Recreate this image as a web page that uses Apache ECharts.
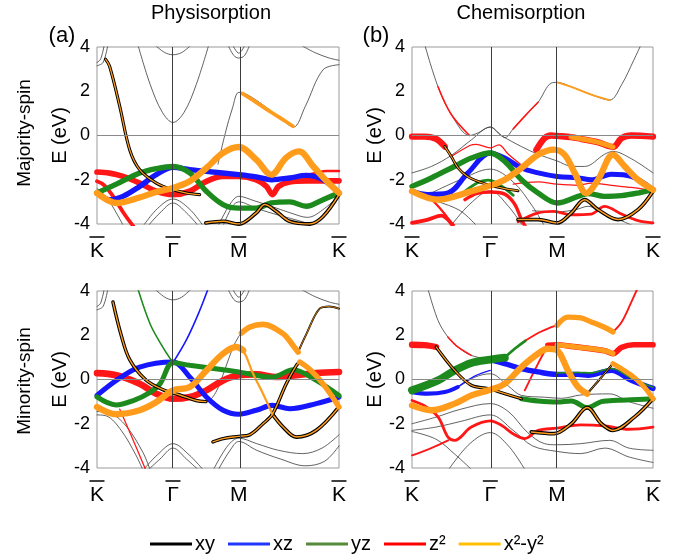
<!DOCTYPE html>
<html>
<head>
<meta charset="utf-8">
<script src="https://cdn.jsdelivr.net/npm/echarts@6/dist/echarts.min.js"></script>
<style>
html, body { margin: 0; padding: 0; background: #fff; }
#chart { width: 689px; height: 559px; }
</style>
</head>
<body>
<div id="chart"></div>
<script>
// high-symmetry points: labels and their position along the k-path (0..1)
const kLabels = ['K', 'Γ', 'M', 'K'];
const kPhys = [0, 0.314, 0.586, 1];
const kChem = [0, 0.325, 0.602, 1];

const orbitals = ['xy', 'xz', 'yz', 'z²', 'x²-y²'];

// fat bands: [orbital, weight, [[k, E], ...]]   ('xy/x²-y²' = mixed character)
const physMajFat = [
  ['z²', 0.9, [[0,-1.65],[0.052,-1.7],[0.107,-1.85],[0.176,-2.15],[0.245,-2.52],[0.314,-2.67],[0.383,-2.52],[0.452,-2.07],[0.521,-1.85],[0.586,-1.85],[0.658,-2.0],[0.7,-2.3],[0.725,-2.67],[0.75,-2.3],[0.796,-2.1],[0.865,-2.05],[0.934,-2.05],[1,-2.05]]],
  ['z²', 0.6, [[0,-2.07],[0.03,-2.25],[0.07,-2.8],[0.11,-3.5],[0.15,-4.1]]],
  ['z²', 0.4, [[0.83,-1.85],[0.9,-1.7],[0.95,-1.6],[1,-1.6]]],
  ['xz', 0.85, [[0,-2.6],[0.052,-2.9],[0.107,-2.75],[0.176,-2.3],[0.245,-1.77],[0.314,-1.44],[0.383,-1.54],[0.452,-1.62],[0.586,-1.77],[0.658,-1.87],[0.72,-2.0],[0.796,-1.92],[0.865,-1.8],[0.934,-2.0],[1,-2.6]]],
  ['yz', 0.85, [[0,-2.6],[0.08,-2.2],[0.176,-1.7],[0.245,-1.5],[0.314,-1.4],[0.383,-1.69],[0.452,-2.52],[0.521,-3.12],[0.586,-3.28],[0.658,-3.28],[0.72,-3.05],[0.796,-3.0],[0.865,-3.2],[0.934,-2.9],[1,-2.6]]],
  ['xy/x²-y²', 0.5, [[0.035,3.45],[0.052,3.13],[0.094,1.32],[0.135,-0.64],[0.176,-1.54],[0.245,-2.15],[0.314,-2.45],[0.37,-2.6],[0.424,-2.67]]],
  ['xy/x²-y²', 0.6, [[0.45,-3.95],[0.521,-3.88],[0.586,-4.0],[0.658,-3.5],[0.693,-3.12],[0.741,-3.43],[0.796,-3.88],[0.879,-4.0],[0.934,-3.66],[1,-2.67]]],
  ['x²-y²', 1.0, [[0,-2.6],[0.08,-3.05],[0.176,-2.8],[0.245,-2.55],[0.314,-2.37],[0.383,-2.07],[0.452,-1.47],[0.521,-0.79],[0.586,-0.52],[0.658,-1.09],[0.72,-1.77],[0.782,-1.0],[0.835,-0.72],[0.893,-1.39],[0.95,-2.07],[1,-2.6]]],
  ['x²-y²', 0.6, [[0.6,1.9],[0.658,1.5],[0.72,1.05],[0.782,0.62],[0.81,0.42]]]
];
const physMajThin = [
  [[0.169,4.1],[0.22,2.3],[0.27,1.05],[0.314,0.59],[0.36,1.05],[0.41,2.3],[0.462,4.1]],
  [[0.238,4.1],[0.28,3.75],[0.314,3.65],[0.35,3.75],[0.39,4.1]],
  [[0.541,4.1],[0.565,3.62],[0.586,3.5],[0.61,3.62],[0.631,4.1]],
  [[0.56,4.1],[0.586,3.72],[0.612,4.1]],
  [[0,3.15],[0.025,3.3],[0.045,4.1]],
  [[0,3.3],[0.015,3.45],[0.03,4.1]],
  [[0.84,4.1],[0.9,3.75],[0.96,3.5],[1,3.4]],
  [[0.5,-1.3],[0.53,0.1],[0.56,1.25],[0.586,1.95],[0.62,1.85],[0.69,1.35],[0.76,0.75],[0.812,0.38],[0.86,1.3],[0.934,2.97],[1,3.2]],
  [[0.19,-4.1],[0.25,-3.3],[0.314,-2.87],[0.38,-3.3],[0.44,-4.1]],
  [[0.21,-4.1],[0.26,-3.5],[0.314,-3.05],[0.37,-3.5],[0.42,-4.1]],
  [[0.5,-4.1],[0.55,-3.1],[0.586,-2.75],[0.65,-2.95],[0.72,-3.2],[0.8,-3.5],[0.87,-3.7],[0.94,-3.3],[1,-2.7]],
  [[0.52,-4.1],[0.56,-3.2],[0.586,-3.0],[0.66,-3.3],[0.75,-3.6],[0.85,-3.9],[0.9,-4.1]],
  [[0,-2.4],[0.04,-2.8],[0.08,-3.5],[0.11,-4.1]]
];

const chemMajFat = [
  ['z²', 1.0, [[0,-0.05],[0.053,-0.05],[0.1,-0.15],[0.136,-0.5]]],
  ['z²', 1.0, [[0.516,-0.65],[0.55,-0.12],[0.578,0.0],[0.602,-0.02],[0.66,-0.07],[0.7,-0.15],[0.77,-0.3],[0.834,-0.52],[0.87,-0.12],[0.91,0.0],[1,-0.05]]],
  ['z²', 0.55, [[0.22,-2.9],[0.27,-2.62],[0.325,-2.55],[0.385,-2.65],[0.426,-3.1],[0.454,-3.8],[0.47,-4.1]]],
  ['z²', 0.6, [[0,-3.95],[0.066,-3.8],[0.122,-3.62],[0.149,-3.8],[0.17,-4.1]]],
  ['z²', 0.35, [[0.053,-2.6],[0.1,-3.1],[0.136,-3.55],[0.16,-3.9],[0.18,-4.1]]],
  ['z²', 0.45, [[0.44,-3.9],[0.523,-3.5],[0.588,-3.43],[0.661,-3.58],[0.744,-3.55],[0.799,-3.2],[0.869,-3.55],[0.938,-3.85],[1,-3.95]]],
  ['z²', 0.2, [[0.163,-0.95],[0.24,-0.45],[0.267,-0.4],[0.325,-0.56],[0.36,-0.42],[0.4,-0.85],[0.45,-1.3]]],
  ['z²', 0.2, [[0.42,-2.2],[0.523,-2.1],[0.602,-2.2],[0.689,-2.25],[0.744,-2.15],[0.827,-2.25],[0.91,-2.35],[1,-2.5]]],
  ['z²', 0.25, [[0.108,2.2],[0.163,0.95],[0.239,0.0]]],
  ['z²', 0.25, [[0.42,0.3],[0.47,0.9],[0.523,1.5]]],
  ['xz', 0.8, [[0,-2.52],[0.066,-2.67],[0.149,-2.6],[0.232,-1.69],[0.325,-0.79],[0.385,-1.02],[0.454,-1.47],[0.523,-1.69],[0.602,-1.85],[0.689,-1.92],[0.744,-2.0],[0.827,-1.75],[0.91,-1.85],[1,-2.45]]],
  ['yz', 0.85, [[0,-2.3],[0.08,-1.92],[0.177,-1.39],[0.246,-1.02],[0.325,-0.79],[0.385,-1.17],[0.454,-2.0],[0.523,-2.6],[0.602,-3.05],[0.689,-2.75],[0.73,-2.62],[0.799,-2.75],[0.869,-2.72],[0.938,-2.6],[1,-2.45]]],
  ['yz', 0.45, [[0.2,-2.7],[0.27,-2.15],[0.315,-2.02],[0.36,-2.2],[0.42,-2.7]]],
  ['xy/x²-y²', 0.45, [[0.136,-0.5],[0.163,-0.95],[0.19,-1.45],[0.23,-1.85],[0.28,-2.1],[0.325,-2.25],[0.385,-2.4],[0.44,-2.5]]],
  ['xy/x²-y²', 0.6, [[0.44,-3.8],[0.523,-3.8],[0.602,-3.95],[0.661,-3.5],[0.716,-2.9],[0.772,-3.35],[0.855,-3.8],[0.938,-3.35],[1,-2.52]]],
  ['x²-y²', 1.0, [[0,-2.52],[0.108,-2.9],[0.177,-2.75],[0.246,-2.52],[0.315,-2.3],[0.385,-2.0],[0.454,-1.47],[0.523,-0.87],[0.588,-0.64],[0.633,-0.87],[0.675,-1.69],[0.723,-2.6],[0.772,-2.0],[0.834,-0.87],[0.882,-1.39],[0.938,-2.0],[1,-2.45]]],
  ['x²-y²', 0.8, [[0.66,-0.07],[0.7,-0.15],[0.77,-0.3],[0.834,-0.52]]],
  ['x²-y²', 0.3, [[0.602,2.4],[0.661,2.2],[0.744,1.85],[0.82,1.6]]]
];
const chemMajThin = [
  [[0.053,4.1],[0.108,2.2],[0.163,0.95],[0.239,0.0],[0.27,0.1],[0.325,0.38],[0.36,0.1],[0.385,-0.1],[0.42,0.3],[0.47,0.9],[0.523,1.5],[0.578,2.37],[0.602,2.4],[0.661,2.2],[0.744,1.85],[0.82,1.6],[0.87,2.3],[0.92,3.4],[0.95,4.1]],
  [[0,-1.69],[0.08,-1.4],[0.163,-0.9],[0.246,-0.2],[0.325,0.38],[0.371,0.0],[0.454,-0.5],[0.523,-0.85],[0.602,-1.15],[0.661,-1.39],[0.716,-1.4],[0.799,-0.85],[0.834,-0.72],[0.91,-1.05],[1,-1.69]],
  [[0.08,-2.6],[0.2,-2.0],[0.325,-1.52],[0.42,-2.1],[0.5,-3.2],[0.55,-4.1]],
  [[0,-2.5],[0.1,-2.95],[0.2,-3.4],[0.27,-4.1]],
  [[0.16,-4.1],[0.24,-3.1],[0.325,-2.5],[0.4,-3.2],[0.46,-4.1]],
  [[0.5,-3.4],[0.602,-3.45],[0.68,-3.35],[0.73,-3.2],[0.8,-3.55],[0.88,-3.9],[0.92,-4.1]]
];

const physMinFat = [
  ['z²', 1.05, [[0,0.29],[0.08,0.19],[0.176,-0.19],[0.245,-0.64],[0.314,-0.87],[0.383,-0.79],[0.452,-0.49],[0.521,-0.04],[0.586,0.19],[0.658,0.23],[0.741,0.11],[0.824,0.19],[0.906,0.29],[1,0.34]]],
  ['z²', 0.2, [[0.094,-1.34],[0.14,-2.5],[0.2,-4.05]]],
  ['xz', 0.8, [[0,-0.72],[0.08,-0.04],[0.176,0.56],[0.314,0.79],[0.383,0.11],[0.452,-0.79],[0.521,-1.39],[0.586,-1.57],[0.658,-1.39],[0.725,-1.17],[0.796,-1.32],[0.906,-1.09],[1,-0.79]]],
  ['xz', 0.25, [[0.314,0.76],[0.37,1.8],[0.42,3.0],[0.459,4.1]]],
  ['yz', 0.8, [[0,-0.79],[0.078,-1.15],[0.15,-0.95],[0.216,-0.6],[0.26,-0.2],[0.314,0.76],[0.383,0.64],[0.521,0.44],[0.586,0.34],[0.658,0.19],[0.725,0.11],[0.81,0.44],[0.906,-0.04],[1,-0.72]]],
  ['yz', 0.25, [[0.169,4.1],[0.22,2.5],[0.27,1.5],[0.314,0.76]]],
  ['xy/x²-y²', 0.55, [[0.066,3.5],[0.1,2.0],[0.135,0.9],[0.2,0.0],[0.27,-0.45],[0.342,-0.7],[0.41,-0.95],[0.45,-1.0]]],
  ['xy/x²-y²', 0.6, [[0.725,-1.57],[0.769,-2.15],[0.824,-2.6],[0.906,-2.3],[1,-1.24]]],
  ['xy/x²-y²', 0.55, [[0.479,-2.82],[0.521,-2.67],[0.586,-2.57],[0.631,-2.5],[0.686,-2.0],[0.725,-1.57],[0.782,-0.19],[0.824,0.64],[0.838,0.79]]],
  ['xy/x²-y²', 0.3, [[0.831,1.24],[0.865,2.05],[0.92,3.2],[0.96,3.3],[1,3.2]]],
  ['x²-y²', 1.0, [[0,-1.24],[0.08,-1.57],[0.176,-1.39],[0.245,-1.02],[0.314,-0.49],[0.383,-0.34],[0.452,0.41],[0.521,1.17],[0.576,1.47],[0.604,1.32]]],
  ['x²-y²', 0.35, [[0.576,1.47],[0.604,1.32],[0.645,0.26],[0.686,-0.64],[0.725,-1.57]]],
  ['x²-y²', 0.85, [[0.838,0.79],[0.88,0.45],[0.934,-0.2],[1,-1.24]]],
  ['x²-y²', 0.9, [[0.597,2.1],[0.631,2.37],[0.686,2.49],[0.769,2.07],[0.81,1.54],[0.831,1.24]]]
];
const physMinThin = [
  [[0.238,4.1],[0.28,3.72],[0.314,3.6],[0.35,3.72],[0.39,4.1]],
  [[0.541,4.1],[0.565,3.62],[0.586,3.5],[0.61,3.62],[0.631,4.1]],
  [[0.56,4.1],[0.586,3.72],[0.612,4.1]],
  [[0,3.15],[0.025,3.3],[0.045,4.1]],
  [[0,3.3],[0.015,3.45],[0.03,4.1]],
  [[0.84,4.1],[0.9,3.75],[0.96,3.5],[1,3.4]],
  [[0.41,-0.95],[0.45,-1.0],[0.49,-0.6],[0.53,0.5],[0.56,1.4],[0.586,1.95],[0.6,2.1]],
  [[0.19,-4.1],[0.25,-3.4],[0.314,-2.9],[0.38,-3.4],[0.44,-4.1]],
  [[0.21,-4.1],[0.26,-3.6],[0.314,-3.1],[0.37,-3.6],[0.42,-4.1]],
  [[0.48,-4.1],[0.54,-3.0],[0.586,-2.65],[0.66,-2.9],[0.75,-3.2],[0.85,-3.35],[0.93,-3.1],[1,-2.5]],
  [[0.5,-4.1],[0.55,-3.2],[0.586,-2.8],[0.66,-3.2],[0.76,-3.6],[0.86,-3.9],[0.94,-3.7],[1,-3.0]],
  [[0,-1.45],[0.05,-1.5],[0.12,-2.1],[0.19,-3.3],[0.22,-4.1]],
  [[0,-1.6],[0.04,-1.65],[0.1,-2.3],[0.16,-3.4],[0.19,-4.1]]
];

const chemMinFat = [
  ['z²', 1.0, [[0,1.57],[0.053,1.55],[0.1,1.47]]],
  ['z²', 0.9, [[0.564,1.55],[0.602,1.57],[0.661,1.5],[0.72,1.42],[0.8,1.3],[0.834,1.17],[0.87,1.45],[0.92,1.57],[1,1.57]]],
  ['z²', 0.3, [[0.468,-0.49],[0.523,0.72],[0.564,1.55]]],
  ['z²', 0.3, [[0.47,1.75],[0.523,2.1],[0.578,2.37],[0.602,2.45]]],
  ['z²', 0.3, [[0.834,2.15],[0.87,2.6],[0.91,3.5],[0.935,4.1]]],
  ['z²', 0.45, [[0,-0.95],[0.053,-1.2],[0.108,-1.69],[0.149,-2.6],[0.177,-2.75],[0.246,-2.15],[0.325,-1.87],[0.371,-2.07],[0.426,-2.5],[0.468,-2.67],[0.523,-2.3],[0.602,-2.2],[0.7,-2.05],[0.8,-2.1],[0.9,-2.25],[1,-2.15]]],
  ['z²', 0.3, [[0,-3.43],[0.08,-3.1],[0.15,-2.75]]],
  ['z²', 0.25, [[0.149,1.92],[0.19,1.47],[0.246,1.09]]],
  ['xz', 0.65, [[0,-0.57],[0.066,-0.64],[0.136,-0.57],[0.19,-0.34]]],
  ['xz', 0.2, [[0.19,-0.34],[0.26,0.15],[0.325,0.41]]],
  ['xz', 0.85, [[0.325,0.9],[0.385,0.72],[0.454,0.49],[0.523,0.34],[0.602,0.23],[0.689,0.23],[0.73,0.19],[0.827,0.41],[0.91,-0.04],[1,-0.4]]],
  ['yz', 1.25, [[0,-0.49],[0.108,-0.04],[0.177,0.41],[0.246,0.75],[0.325,0.9],[0.385,0.99]]],
  ['yz', 0.45, [[0.385,0.99],[0.426,1.39],[0.47,1.75]]],
  ['yz', 0.8, [[0.454,-0.87],[0.523,-0.97],[0.602,-1.02],[0.661,-0.97],[0.727,-1.27],[0.786,-1.0],[0.855,-0.94],[0.938,-0.9],[1,-0.87]]],
  ['yz', 0.25, [[0.602,0.3],[0.689,0.32],[0.744,0.3],[0.827,0.5],[0.91,0.05],[1,-0.35]]],
  ['xy/x²-y²', 0.5, [[0.1,1.47],[0.177,0.41],[0.246,-0.26],[0.315,-0.41],[0.385,-0.64],[0.454,-0.87]]],
  ['xy/x²-y²', 0.35, [[0.727,-0.64],[0.77,-0.1],[0.834,0.72]]],
  ['xy/x²-y²', 0.6, [[0.495,-2.37],[0.588,-2.45],[0.661,-2.0],[0.727,-1.27],[0.786,-2.0],[0.834,-2.3],[0.924,-1.69],[1,-0.87]]],
  ['x²-y²', 1.0, [[0,-1.17],[0.08,-1.39],[0.177,-1.09],[0.246,-0.72],[0.325,-0.46],[0.385,-0.19],[0.454,0.56],[0.523,1.17],[0.564,1.39],[0.602,1.32],[0.647,0.41],[0.689,-0.34],[0.727,-0.64]]],
  ['x²-y²', 0.8, [[0.834,0.72],[0.91,0.19],[0.96,-0.3],[1,-0.87]]],
  ['x²-y²', 0.8, [[0.602,1.57],[0.661,1.5],[0.72,1.42],[0.8,1.3],[0.834,1.17]]],
  ['x²-y²', 0.85, [[0.602,2.45],[0.647,2.82],[0.7,2.78],[0.744,2.6],[0.8,2.35],[0.834,2.15]]]
];
const chemMinThin = [
  [[0.066,4.1],[0.108,2.67],[0.149,1.92],[0.19,1.47],[0.246,1.09],[0.325,0.9]],
  [[0,-2.0],[0.1,-1.7],[0.2,-1.35],[0.325,-1.09],[0.4,-1.45],[0.48,-2.4],[0.55,-2.9],[0.602,-2.95],[0.7,-2.9],[0.82,-2.75],[0.9,-3.1],[1,-3.2]],
  [[0,-2.3],[0.1,-2.15],[0.2,-1.9],[0.325,-1.6],[0.42,-2.3],[0.5,-3.0],[0.602,-3.25],[0.7,-3.35],[0.8,-3.1],[0.9,-3.5],[1,-3.75]],
  [[0,-2.35],[0.1,-2.7],[0.18,-3.4],[0.25,-4.1]],
  [[0.2,-0.3],[0.26,0.1],[0.325,0.26],[0.4,-0.3],[0.454,-0.72],[0.55,-0.8],[0.62,-0.85],[0.7,-0.7],[0.82,-0.65],[0.9,-1.0],[1,-1.3]],
  [[0.15,-4.1],[0.24,-2.9],[0.325,-2.4],[0.4,-3.0],[0.47,-4.1]]
];

const FONT = "'Liberation Sans', Arial, sans-serif";
const bandColor = { 'xy': '#000000', 'xz': '#1616ff', 'yz': '#1c8a1c', 'z²': '#ff1616', 'x²-y²': '#ff9c1c' };
const legendColor = { 'xy': '#000000', 'xz': '#2036ff', 'yz': '#548a3a', 'z²': '#ff0000', 'x²-y²': '#ffc000' };
const drawOrder = ['z²', 'xz', 'yz', 'xy/x²-y²', 'x²-y²'];

const panels = [
  { fat: physMajFat, thin: physMajThin, k: kPhys, grid: { left: 97, top: 47, width: 242, height: 177 } },
  { fat: chemMajFat, thin: chemMajThin, k: kChem, grid: { left: 412, top: 47, width: 241, height: 177 } },
  { fat: physMinFat, thin: physMinThin, k: kPhys, grid: { left: 97, top: 291, width: 242, height: 177 } },
  { fat: chemMinFat, thin: chemMinThin, k: kChem, grid: { left: 412, top: 291, width: 241, height: 177 } }
];

function line(i, pts, color, width, name) {
  return {
    type: 'line', name: name, xAxisIndex: i, yAxisIndex: i, data: pts,
    smooth: 0.35, symbol: 'none', silent: true, animation: false,
    lineStyle: { color: color, width: width, cap: 'round' }
  };
}

const series = [];
panels.forEach((p, i) => {
  // frame lines: E = 0 and the Gamma / M verticals
  series.push({
    type: 'line', xAxisIndex: i, yAxisIndex: i, data: [], silent: true,
    markLine: {
      silent: true, symbol: 'none', animation: false, label: { show: false },
      lineStyle: { type: 'solid', width: 1 },
      data: [
        { yAxis: 0, lineStyle: { color: '#8a8a8a' } },
        { xAxis: p.k[1], lineStyle: { color: '#3c3c3c' } },
        { xAxis: p.k[2], lineStyle: { color: '#3c3c3c' } }
      ]
    }
  });
  p.thin.forEach(pts => series.push(line(i, pts, '#3a3a3a', 0.8)));
  const fat = p.fat.slice().sort((a, b) => drawOrder.indexOf(a[0]) - drawOrder.indexOf(b[0]));
  fat.forEach(([orb, w, pts]) => {
    const width = Math.max(1.1, w * 6.3);
    if (orb === 'xy/x²-y²') {
      series.push(line(i, pts, bandColor['xy'], width, 'xy'));
      series.push(line(i, pts, bandColor['x²-y²'], Math.max(0.8, width * 0.4), 'x²-y²'));
    } else {
      series.push(line(i, pts, bandColor[orb], width, orb));
    }
  });
});

const chart = echarts.init(document.getElementById('chart'));
chart.setOption({
  backgroundColor: '#ffffff',
  animation: false,
  grid: panels.map(p => Object.assign({ show: true, borderColor: '#9a9a9a', borderWidth: 1, backgroundColor: 'transparent' }, p.grid)),
  xAxis: panels.map((p, i) => ({
    gridIndex: i, type: 'value', min: 0, max: 1,
    axisLine: { show: false }, axisTick: { show: false }, splitLine: { show: false },
    axisLabel: {
      customValues: p.k, margin: 10, color: '#000',
      formatter: v => '{ov|}\n{t|' + kLabels[p.k.indexOf(v)] + '}',
      rich: {
        ov: { width: 15, height: 1.5, lineHeight: 6, backgroundColor: '#000', align: 'center' },
        t: { fontSize: 21, lineHeight: 22, fontFamily: FONT, color: '#000', align: 'center' }
      }
    }
  })),
  yAxis: panels.map((p, i) => ({
    gridIndex: i, type: 'value', min: -4, max: 4, interval: 2,
    name: 'E (eV)', nameLocation: 'middle', nameGap: 24,
    nameTextStyle: { fontSize: 20, color: '#000', fontFamily: FONT },
    axisLine: { show: false }, axisTick: { show: false }, splitLine: { show: false },
    axisLabel: { fontSize: 18, color: '#000', margin: 7, fontFamily: FONT }
  })),
  legend: {
    data: orbitals.map(n => ({ name: n, itemStyle: { color: legendColor[n] } })),
    left: 145, top: 529, itemWidth: 42, itemHeight: 3, itemGap: 13, icon: 'rect',
    selectedMode: false,
    textStyle: { fontSize: 20, color: '#000', fontFamily: FONT, padding: [0, 0, 0, -2] }
  },
  graphic: [
    { type: 'text', x: 211, y: 13, style: { text: 'Physisorption', fontSize: 20, fontFamily: FONT, fill: '#000', align: 'center', verticalAlign: 'middle' } },
    { type: 'text', x: 521, y: 13, style: { text: 'Chemisorption', fontSize: 20, fontFamily: FONT, fill: '#000', align: 'center', verticalAlign: 'middle' } },
    { type: 'text', x: 62, y: 36, style: { text: '(a)', fontSize: 22, fontFamily: FONT, fill: '#000', align: 'center', verticalAlign: 'middle' } },
    { type: 'text', x: 376, y: 36, style: { text: '(b)', fontSize: 22, fontFamily: FONT, fill: '#000', align: 'center', verticalAlign: 'middle' } },
    { type: 'text', x: 25, y: 133, rotation: Math.PI / 2, style: { text: 'Majority-spin', fontSize: 19, fontFamily: FONT, fill: '#000', align: 'center', verticalAlign: 'middle' } },
    { type: 'text', x: 25, y: 381, rotation: Math.PI / 2, style: { text: 'Minority-spin', fontSize: 19, fontFamily: FONT, fill: '#000', align: 'center', verticalAlign: 'middle' } }
  ],
  series: series
});
</script>
</body>
</html>
